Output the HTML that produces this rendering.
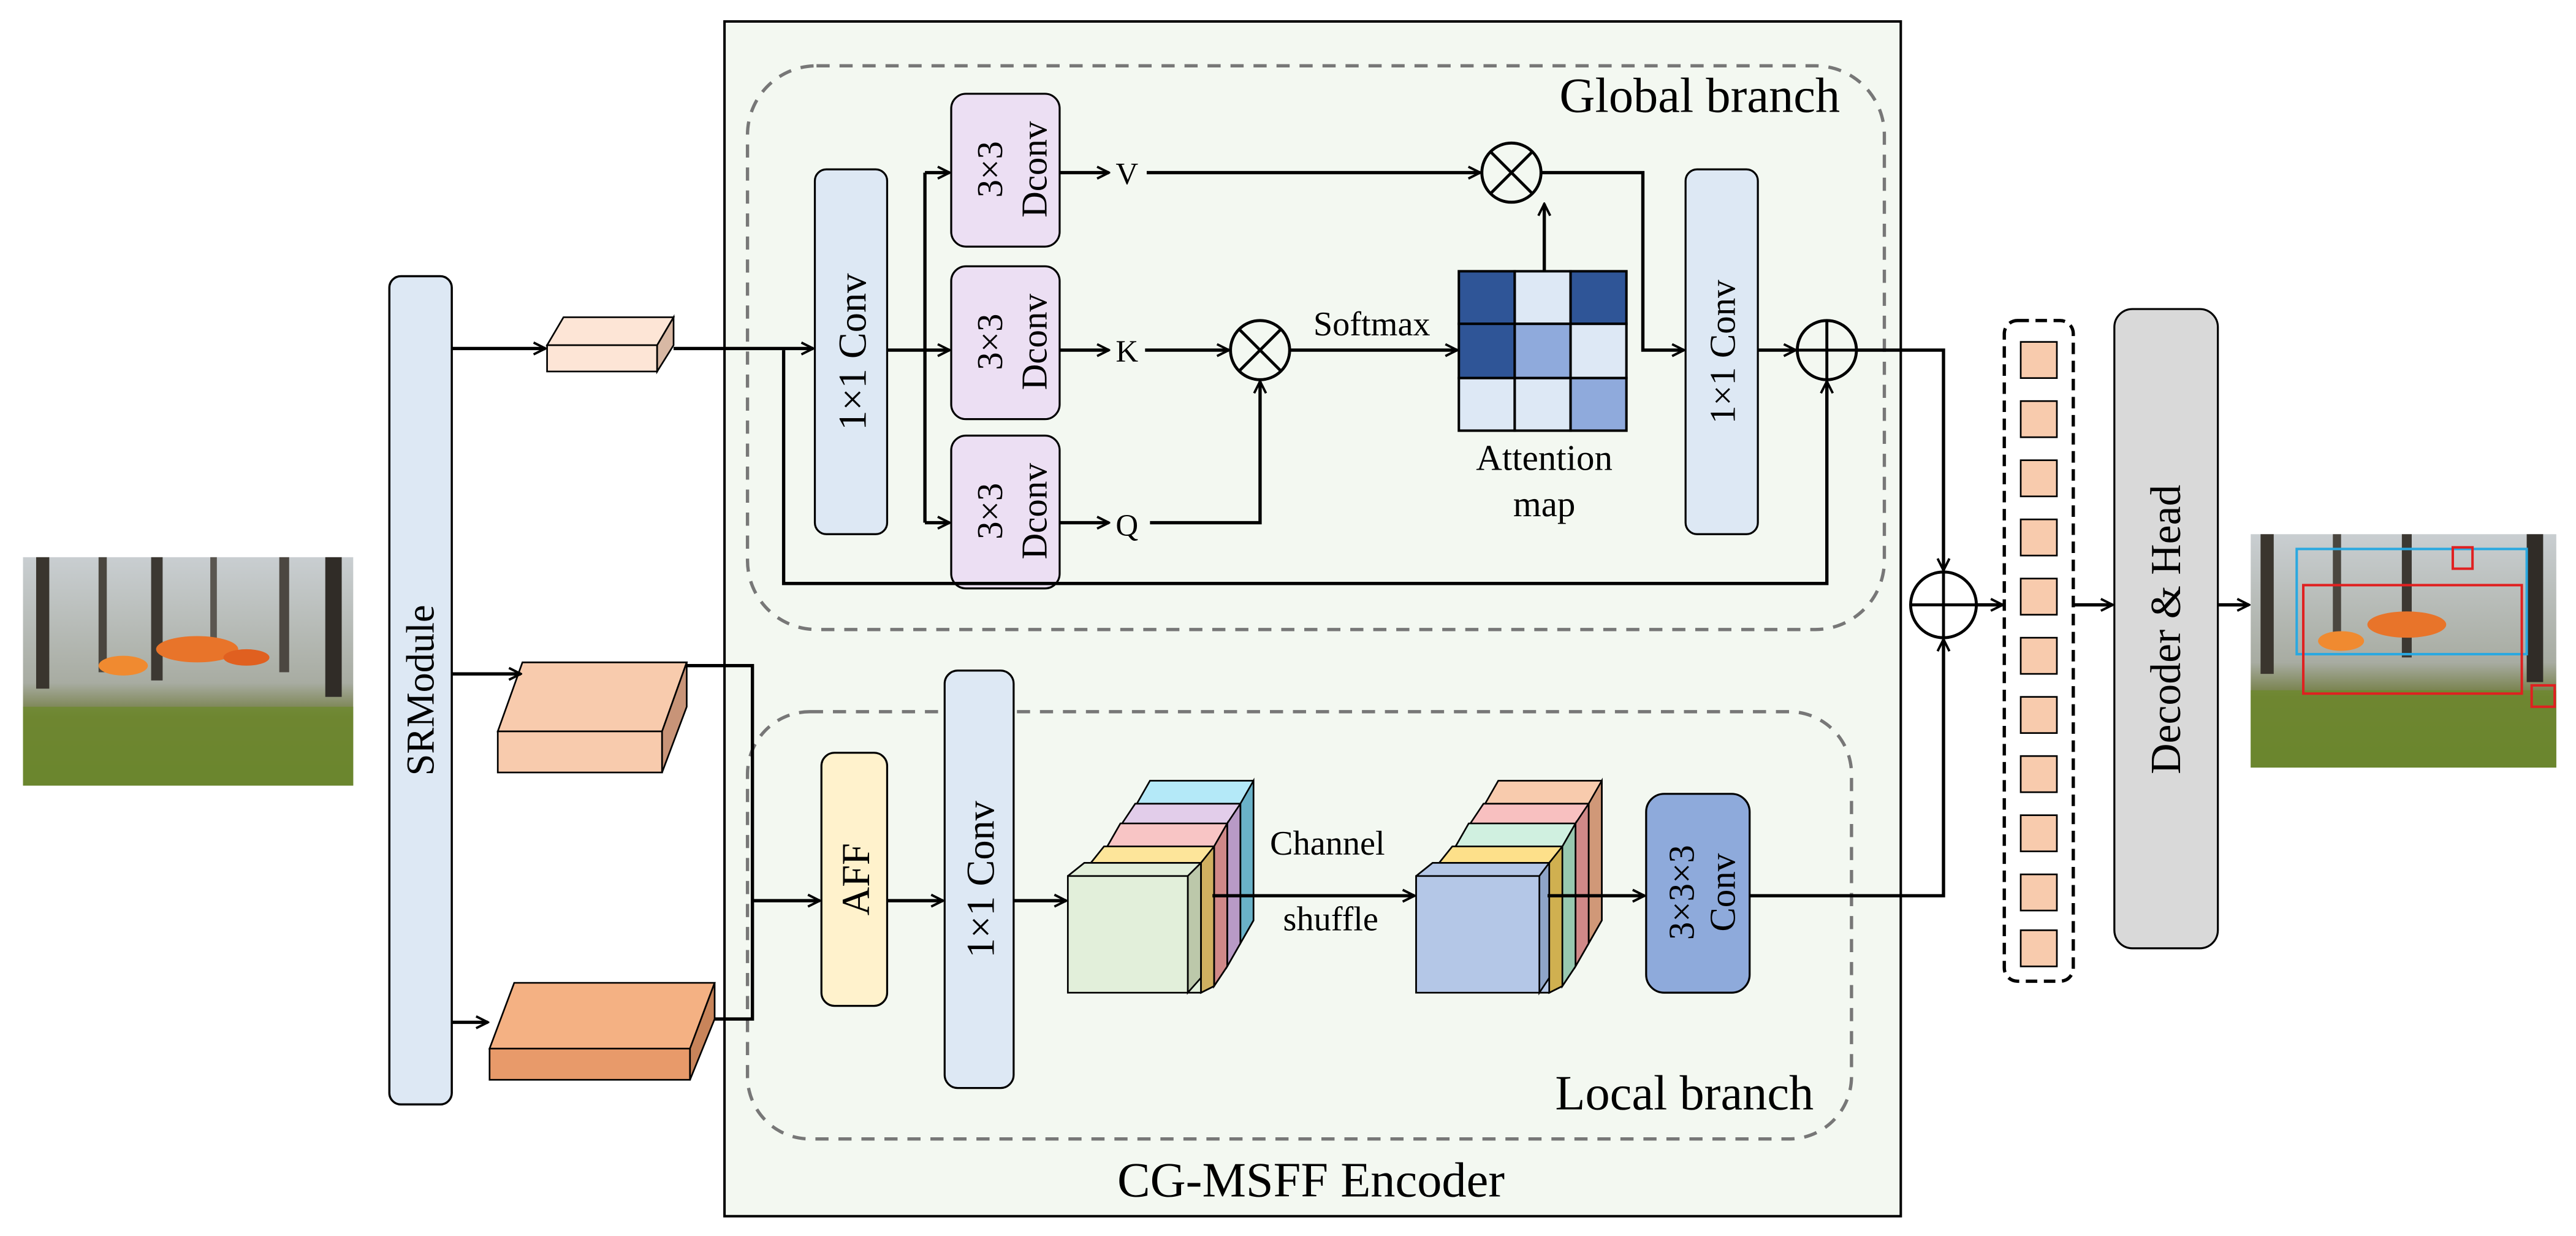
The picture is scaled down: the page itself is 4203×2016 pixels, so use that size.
<!DOCTYPE html>
<html><head><meta charset="utf-8"><style>html,body{margin:0;padding:0;background:#fff}svg{display:block}</style></head><body>
<svg width="4203" height="2016" viewBox="0 0 1568 752" xmlns="http://www.w3.org/2000/svg" font-family="Liberation Serif, serif">
<defs>
<marker id="a" viewBox="0 0 10 10" refX="9" refY="5" markerWidth="9" markerHeight="9" markerUnits="userSpaceOnUse" orient="auto"><path d="M1,1 L9,5 L1,9" fill="none" stroke="#000" stroke-width="1.6"/></marker>
<linearGradient id="sky" x1="0" y1="0" x2="0" y2="1"><stop offset="0" stop-color="#c9ced1"/><stop offset="0.55" stop-color="#a8aca2"/><stop offset="0.7" stop-color="#6f7a3c"/><stop offset="1" stop-color="#5d7a2c"/></linearGradient>
</defs>
<rect width="1568" height="752" fill="#fff"/>
<g>
<rect x="14" y="339" width="201" height="139" fill="url(#sky)"/>
<rect x="22" y="339" width="8" height="80" fill="#3a352e"/><rect x="60" y="339" width="5" height="70" fill="#4a463f"/><rect x="92" y="339" width="7" height="75" fill="#3c3832"/><rect x="128" y="339" width="4" height="60" fill="#5a5650"/><rect x="170" y="339" width="6" height="70" fill="#4c4741"/><rect x="198" y="339" width="10" height="85" fill="#302c27"/>
<ellipse cx="120" cy="395" rx="25" ry="8" fill="#e8742a"/><ellipse cx="75" cy="405" rx="15" ry="6" fill="#f08a30"/><ellipse cx="150" cy="400" rx="14" ry="5" fill="#e06020"/>
<rect x="14" y="430" width="201" height="48" fill="#6e8a2e" opacity="0.8"/>
</g>
<rect x="237" y="168" width="38" height="504" rx="7" fill="#dde8f4" stroke="#000" stroke-width="1.3"/>
<text transform="translate(264,420) rotate(-90)" font-size="24" text-anchor="middle">SRModule</text>
<g stroke="#000" stroke-width="1">
<polygon points="343,193 410,193 400,210 333,210" fill="#fde5d6"/><rect x="333" y="210" width="67" height="16" fill="#fde5d6"/><polygon points="400,210 410,193 410,210 400,226" fill="#d8b8a4"/>
<polygon points="318,403 418,403 403,445 303,445" fill="#f8cbad"/><rect x="303" y="445" width="100" height="25" fill="#f8cbad"/><polygon points="403,445 418,403 418,430 403,470" fill="#c89478"/>
<polygon points="313,598 435,598 420,638 298,638" fill="#f4b183"/><rect x="298" y="638" width="122" height="19" fill="#e89a6a"/><polygon points="420,638 435,598 435,620 420,657" fill="#c8845a"/>
</g>
<rect x="441" y="13" width="716" height="727" fill="#f3f8f1" stroke="#000" stroke-width="1.5"/>
<rect x="455" y="40" width="692" height="343" rx="42" fill="none" stroke="#777" stroke-width="2" stroke-dasharray="8,6"/>
<rect x="455" y="433" width="672" height="260" rx="38" fill="none" stroke="#777" stroke-width="2" stroke-dasharray="8,6"/>
<text x="1120" y="68" font-size="30" text-anchor="end">Global branch</text>
<text x="1104" y="675" font-size="30" text-anchor="end">Local branch</text>
<text x="798" y="728" font-size="30" text-anchor="middle">CG-MSFF Encoder</text>
<rect x="496" y="103" width="44" height="222" rx="7" fill="#dde8f4" stroke="#000" stroke-width="1.2"/>
<text transform="translate(527,214) rotate(-90)" font-size="24" text-anchor="middle">1×1 Conv</text>
<g fill="#ecdff3" stroke="#000" stroke-width="1.2">
<rect x="579" y="57" width="66" height="93" rx="9"/><rect x="579" y="162" width="66" height="93" rx="9"/><rect x="579" y="265" width="66" height="93" rx="9"/>
</g>
<g font-size="22" text-anchor="middle">
<text transform="translate(610,103) rotate(-90)">3×3</text><text transform="translate(637,103) rotate(-90)">Dconv</text>
<text transform="translate(610,208) rotate(-90)">3×3</text><text transform="translate(637,208) rotate(-90)">Dconv</text>
<text transform="translate(610,311) rotate(-90)">3×3</text><text transform="translate(637,311) rotate(-90)">Dconv</text>
</g>
<g font-size="19" text-anchor="middle"><text x="686" y="112">V</text><text x="686" y="220">K</text><text x="686" y="326">Q</text></g>
<text x="835" y="204" font-size="21" text-anchor="middle">Softmax</text>
<text x="940" y="286" font-size="22" text-anchor="middle">Attention</text>
<text x="940" y="314" font-size="22" text-anchor="middle">map</text>
<g stroke="#000" stroke-width="1.5">
<rect x="888" y="165" width="34" height="32" fill="#2f5597"/><rect x="922" y="165" width="34" height="32" fill="#dde8f5"/><rect x="956" y="165" width="34" height="32" fill="#2f5597"/>
<rect x="888" y="197" width="34" height="33" fill="#2f5597"/><rect x="922" y="197" width="34" height="33" fill="#8faadc"/><rect x="956" y="197" width="34" height="33" fill="#dde8f5"/>
<rect x="888" y="230" width="34" height="32" fill="#dde8f5"/><rect x="922" y="230" width="34" height="32" fill="#dde8f5"/><rect x="956" y="230" width="34" height="32" fill="#8faadc"/>
</g>
<rect x="1026" y="103" width="44" height="222" rx="7" fill="#dde8f4" stroke="#000" stroke-width="1.2"/>
<text transform="translate(1056,214) rotate(-90)" font-size="22" text-anchor="middle">1×1 Conv</text>
<g fill="none" stroke="#000" stroke-width="1.8">
<circle cx="920" cy="105" r="18"/><path d="M907,92 L933,118 M933,92 L907,118"/>
<circle cx="767" cy="213" r="18"/><path d="M754,200 L780,226 M780,200 L754,226"/>
<circle cx="1112" cy="213" r="18"/><path d="M1094,213 H1130 M1112,195 V231"/>
<circle cx="1183" cy="368" r="20"/><path d="M1163,368 H1203 M1183,348 V388"/>
</g>
<rect x="500" y="458" width="40" height="154" rx="8" fill="#fff2cc" stroke="#000" stroke-width="1.2"/>
<text transform="translate(529,535) rotate(-90)" font-size="24" text-anchor="middle">AFF</text>
<rect x="575" y="408" width="42" height="254" rx="8" fill="#dde8f4" stroke="#000" stroke-width="1.2"/>
<text transform="translate(605,535) rotate(-90)" font-size="24" text-anchor="middle">1×1 Conv</text>
<g stroke="#000" stroke-width="1">
<polygon points="692,489 700,475 763,475 763,560 755,574 692,574" fill="#b4e9f8"/><polygon points="755,489 763,475 763,560 755,574" fill="#6ab2c8"/>
<polygon points="683,501 691,489 755,489 755,574 747,588 683,588" fill="#e2cdea"/><polygon points="747,501 755,489 755,574 747,588" fill="#b89ac6"/>
<polygon points="674,515 682,501 747,501 747,588 739,600 674,600" fill="#f8c5c5"/><polygon points="739,515 747,501 747,588 739,600" fill="#d08888"/>
<polygon points="664,525 672,515 739,515 739,600 731,604 664,604" fill="#fde59a"/><polygon points="731,525 739,515 739,600 731,604" fill="#d0b060"/>
<polygon points="650,533 660,525 731,525 731,604 723,604 650,604" fill="#e2efda"/><polygon points="723,533 731,525 731,595 723,604" fill="#bcc8aa"/>
<rect x="650" y="533" width="73" height="71" fill="#e2efda"/>
</g>
<g stroke="#000" stroke-width="1">
<polygon points="904,489 912,475 975,475 975,560 967,574 904,574" fill="#f8cbad"/><polygon points="967,489 975,475 975,560 967,574" fill="#d09878"/>
<polygon points="895,501 903,489 967,489 967,574 959,588 895,588" fill="#f8c0c0"/><polygon points="959,501 967,489 967,574 959,588" fill="#d08888"/>
<polygon points="886,515 894,501 959,501 959,588 951,600 886,600" fill="#d0f0e0"/><polygon points="951,515 959,501 959,588 951,600" fill="#98c8b0"/>
<polygon points="876,525 884,515 951,515 951,600 943,604 876,604" fill="#fde08a"/><polygon points="943,525 951,515 951,600 943,604" fill="#d0b050"/>
<polygon points="862,533 872,525 943,525 943,604 862,604" fill="#b4c7e7"/><polygon points="937,533 943,525 943,595 937,604" fill="#8ea4c8"/>
<rect x="862" y="533" width="75" height="71" fill="#b4c7e7"/>
</g>
<text x="808" y="520" font-size="21" text-anchor="middle">Channel</text>
<text x="810" y="566" font-size="21" text-anchor="middle">shuffle</text>
<rect x="1002" y="483" width="63" height="121" rx="11" fill="#8eaadb" stroke="#000" stroke-width="1.2"/>
<text transform="translate(1031,543) rotate(-90)" font-size="22" text-anchor="middle">3×3×3</text>
<text transform="translate(1056,543) rotate(-90)" font-size="22" text-anchor="middle">Conv</text>
<rect x="1220" y="195" width="42" height="402" rx="8" fill="#fff" stroke="#000" stroke-width="2" stroke-dasharray="7,4"/>
<g fill="#f8cbad" stroke="#000" stroke-width="1">
<rect x="1230" y="208" width="22" height="22"/><rect x="1230" y="244" width="22" height="22"/><rect x="1230" y="280" width="22" height="22"/><rect x="1230" y="316" width="22" height="22"/><rect x="1230" y="352" width="22" height="22"/><rect x="1230" y="388" width="22" height="22"/><rect x="1230" y="424" width="22" height="22"/><rect x="1230" y="460" width="22" height="22"/><rect x="1230" y="496" width="22" height="22"/><rect x="1230" y="532" width="22" height="22"/><rect x="1230" y="566" width="22" height="22"/>
</g>
<rect x="1287" y="188" width="63" height="389" rx="11" fill="#d9d9d9" stroke="#000" stroke-width="1.2"/>
<text transform="translate(1327,383) rotate(-90)" font-size="26" text-anchor="middle">Decoder &amp; Head</text>
<g>
<rect x="1370" y="325" width="186" height="142" fill="url(#sky)"/>
<rect x="1376" y="325" width="8" height="85" fill="#3a352e"/><rect x="1420" y="325" width="5" height="70" fill="#4a463f"/><rect x="1462" y="325" width="6" height="75" fill="#3c3832"/><rect x="1538" y="325" width="10" height="90" fill="#302c27"/>
<ellipse cx="1465" cy="380" rx="24" ry="8" fill="#e8742a"/><ellipse cx="1425" cy="390" rx="14" ry="6" fill="#f08a30"/>
<rect x="1370" y="420" width="186" height="47" fill="#6e8a2e" opacity="0.8"/>
<rect x="1398" y="334" width="140" height="64" fill="none" stroke="#2aa8e0" stroke-width="1.5"/>
<rect x="1402" y="356" width="133" height="66" fill="none" stroke="#e02020" stroke-width="1.5"/>
<rect x="1493" y="333" width="12" height="13" fill="none" stroke="#e02020" stroke-width="1.5"/>
<rect x="1541" y="417" width="14" height="13" fill="none" stroke="#e02020" stroke-width="1.5"/>
</g>
<g fill="none" stroke="#000" stroke-width="2">
<path d="M275,212 H332" marker-end="url(#a)"/>
<path d="M275,410 H317" marker-end="url(#a)"/>
<path d="M275,622 H297" marker-end="url(#a)"/>
<path d="M410,212 H495" marker-end="url(#a)"/>
<path d="M477,213 V355 H1112 V232" marker-end="url(#a)"/>
<path d="M540,213 H578" marker-end="url(#a)"/>
<path d="M563,105 V318"/>
<path d="M563,105 H578" marker-end="url(#a)"/>
<path d="M563,318 H578" marker-end="url(#a)"/>
<path d="M645,105 H675" marker-end="url(#a)"/>
<path d="M645,213 H675" marker-end="url(#a)"/>
<path d="M645,318 H675" marker-end="url(#a)"/>
<path d="M698,105 H901" marker-end="url(#a)"/>
<path d="M697,213 H748" marker-end="url(#a)"/>
<path d="M700,318 H767 V232" marker-end="url(#a)"/>
<path d="M785,213 H887" marker-end="url(#a)"/>
<path d="M940,165 V124" marker-end="url(#a)"/>
<path d="M938,105 H1000 V213 H1025" marker-end="url(#a)"/>
<path d="M1070,213 H1093" marker-end="url(#a)"/>
<path d="M1130,213 H1183 V347" marker-end="url(#a)"/>
<path d="M418,405 H458 V620 H435"/>
<path d="M458,548 H499" marker-end="url(#a)"/>
<path d="M540,548 H574" marker-end="url(#a)"/>
<path d="M617,548 H649" marker-end="url(#a)"/>
<path d="M738,545 H861" marker-end="url(#a)"/>
<path d="M942,545 H1001" marker-end="url(#a)"/>
<path d="M1065,545 H1183 V389" marker-end="url(#a)"/>
<path d="M1203,368 H1219" marker-end="url(#a)"/>
<path d="M1262,368 H1286" marker-end="url(#a)"/>
<path d="M1350,368 H1369" marker-end="url(#a)"/>
</g>
</svg>
</body></html>
